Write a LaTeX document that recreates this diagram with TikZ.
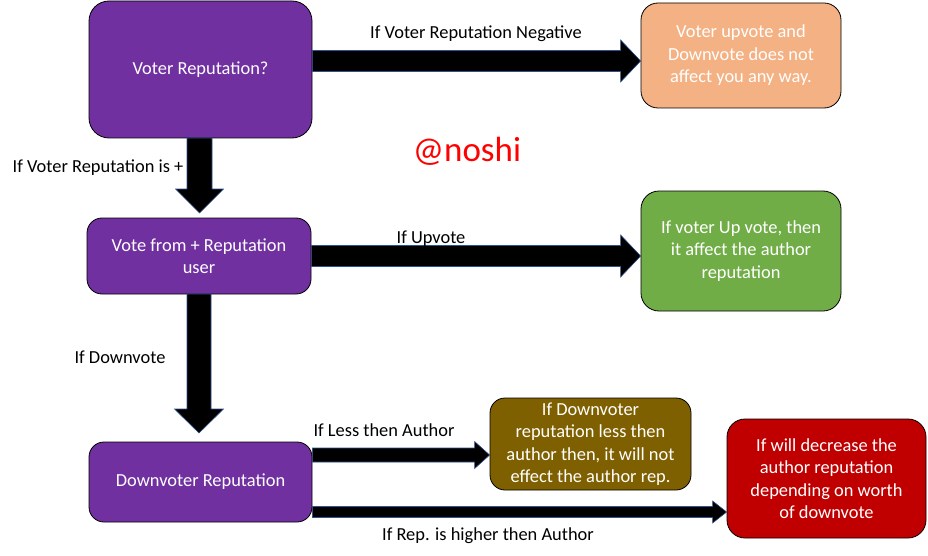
\documentclass[tikz,border=0pt]{standalone}
\usepackage{fontspec}
\setmainfont{Carlito}
\usetikzlibrary{calc}
\definecolor{purp}{HTML}{7030A0}
\definecolor{orng}{HTML}{F4B183}
\definecolor{grn}{HTML}{70AD47}
\definecolor{brwn}{HTML}{7F6000}
\definecolor{rd}{HTML}{C00000}
\definecolor{arrowblue}{HTML}{2F528F}
\definecolor{red2}{HTML}{FF0000}
% horizontal block arrow: start, tip, shaft half, head half, head length
\newcommand\hblockarrow[5]{%
  \filldraw[blockarrow] ($(#1)+(0,-#3)$) -- ($(#2)+(-#5,-#3)$) -- ($(#2)+(-#5,-#4)$) -- (#2)
    -- ($(#2)+(-#5,#4)$) -- ($(#2)+(-#5,#3)$) -- ($(#1)+(0,#3)$) -- cycle;}
% vertical (downward) block arrow
\newcommand\vblockarrow[5]{%
  \filldraw[blockarrow] ($(#1)+(-#3,0)$) -- ($(#2)+(-#3,-#5)$) -- ($(#2)+(-#4,-#5)$) -- (#2)
    -- ($(#2)+(#4,-#5)$) -- ($(#2)+(#3,-#5)$) -- ($(#1)+(#3,0)$) -- cycle;}
\begin{document}
\begin{tikzpicture}[x=1pt,y=-1pt,
  box/.style={draw=black, line width=0.8pt, text=white, align=center, inner sep=0pt,
    font=\fontsize{18.4}{22.5}\selectfont},
  blockarrow/.style={fill=black, draw=arrowblue, line width=0.6pt, line join=miter},
  lbl/.style={anchor=base, inner sep=0pt, font=\fontsize{18.4}{22.5}\selectfont}]
\useasboundingbox (0,0) rectangle (928,556);

% boxes
\node[box, fill=purp, minimum width=223pt, minimum height=137pt, rounded corners=20pt] (b1) at (200.5,69.5) {Voter Reputation?};
\node[box, fill=purp, minimum width=224pt, minimum height=76pt, rounded corners=15pt] (b2) at (199,256) {Vote from + Reputation\\user};
\node[box, fill=purp, minimum width=223pt, minimum height=80pt, rounded corners=15pt] (b3) at (200.5,482) {Downvoter Reputation};
\node[box, fill=orng, minimum width=200pt, minimum height=105pt, rounded corners=17pt] (o) at (741,55.5) {Voter upvote and\\Downvote does not\\affect you any way.};
\node[box, fill=grn, minimum width=200pt, minimum height=120pt, rounded corners=18pt] (g) at (741,251) {If voter Up vote, then\\it affect the author\\reputation};
\node[box, fill=brwn, minimum width=201pt, minimum height=92pt, rounded corners=15pt] (br) at (590.5,444) {If Downvoter\\reputation less then\\author then, it will not\\effect the author rep.};
\node[box, fill=rd, minimum width=199pt, minimum height=119pt, rounded corners=18pt] (r) at (826.5,478.5) {If will decrease the\\author reputation\\depending on worth\\of downvote};

% arrow end points
\coordinate (a1s) at (b1.east |- 0,61);
\coordinate (a1t) at (o.west |- 0,61);
\coordinate (a2s) at (b2.east |- 0,256);
\coordinate (a2t) at (g.west |- 0,256);
\coordinate (a3s) at (b3.east |- 0,455);
\coordinate (a3t) at (br.west |- 0,455);
\coordinate (a4s) at (b3.east |- 0,512);
\coordinate (a4t) at (r.west |- 0,512);
\coordinate (d1s) at (199.5,138);
\coordinate (d1t) at (199.5,213);
\coordinate (d2s) at (199,294);
\coordinate (d2t) at (199,433);

\hblockarrow{a1s}{a1t}{10.5}{21}{20}
\hblockarrow{a2s}{a2t}{10.5}{21}{20}
\hblockarrow{a3s}{a3t}{7}{13.5}{15}
\hblockarrow{a4s}{a4t}{5.5}{11}{14}
\vblockarrow{d1s}{d1t}{12.5}{24}{24}
\vblockarrow{d2s}{d2t}{12}{24.5}{24}

% labels
\node[lbl] (l1) at (476,39) {If Voter Reputation Negative};
\node[lbl] (l2) at (98,173) {If Voter Reputation is +};
\node[lbl] (l3) at (431,243) {If Upvote};
\node[lbl] (l4) at (120,363) {If Downvote};
\node[lbl] (l5) at (384,436) {If Less then Author};
\node[lbl] (l6) at (488,540) {If Rep. is higher then Author};
\node[anchor=base, inner sep=0pt, text=red2, font=\fontsize{35}{40}\selectfont] (at) at (467,162) {@noshi};
\end{tikzpicture}
\end{document}
